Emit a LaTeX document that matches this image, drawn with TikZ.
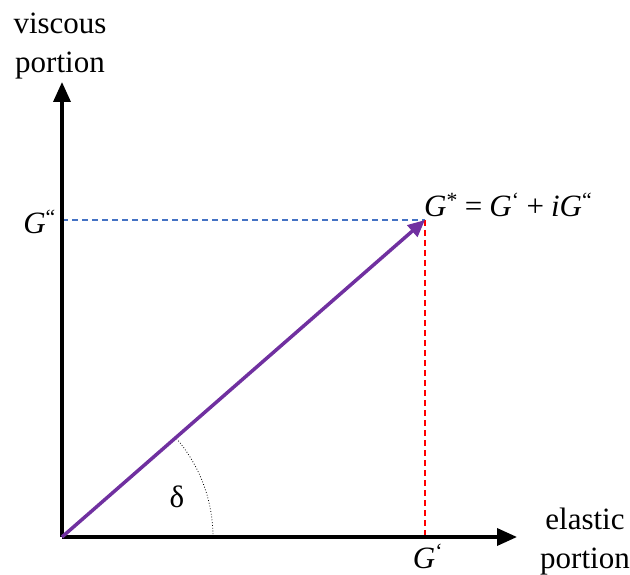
\documentclass[tikz,border=0pt]{standalone}
\usepackage{fontspec}
\setmainfont{Liberation Serif}
\usetikzlibrary{arrows.meta,calc}
\definecolor{vpurple}{HTML}{7030A0}
\definecolor{vblue}{HTML}{4472C4}
\definecolor{vred}{HTML}{FF0000}
\tikzset{
  axis/.style={line width=3.5pt,-{Triangle[length=20pt,width=17pt]}},
  vec/.style={line width=3.5pt,vpurple,-{Triangle[length=17pt,width=15pt]}},
  guide/.style={line width=2pt,dash pattern=on 6pt off 4pt},
  lbl/.style={inner sep=0pt,font=\fontsize{31}{39}\selectfont},
}
\newcommand{\gsp}{\hspace{7pt}}
\begin{document}
\begin{tikzpicture}[x=1pt,y=-1pt]
\useasboundingbox (0,0) rectangle (630,575);
\coordinate (O) at (62,537);
\coordinate (P) at (425,220);
\coordinate (Ytip) at (62,82);
\coordinate (Xtip) at (517,537);
\coordinate (Gy) at (62,220);
\coordinate (Gx) at (425,537);
\draw[guide,vblue] (Gy) -- (P);
\draw[guide,vred] (P) -- (Gx);
\draw[axis] (O) -- (Ytip);
\draw[axis] (O) -- (Xtip);
\draw[dotted,line width=0.8pt] ($(O)+(151,0)$) arc[start angle=0,end angle=-41.1,radius=151];
\draw[vec] (O) -- (P);
\node[lbl,align=center,anchor=base] (vis) at (60,73) {viscous\\portion};
\node[lbl,align=center,anchor=base] (ela) at (585,568) {elastic\\portion};
\node[lbl,anchor=base east] (gpp) at (56,234) {\textit{G}\textsuperscript{“}};
\node[lbl,anchor=base west] (gs) at (424,217) {\textit{G}\textsuperscript{*}\gsp=\gsp\textit{G}\textsuperscript{‘}\gsp+\gsp\textit{iG}\textsuperscript{“}};
\node[lbl,anchor=base] (gp) at (428,568) {\textit{G}\textsuperscript{‘}};
\node[lbl,anchor=base] (del) at (177,507) {δ};
\end{tikzpicture}
\end{document}
